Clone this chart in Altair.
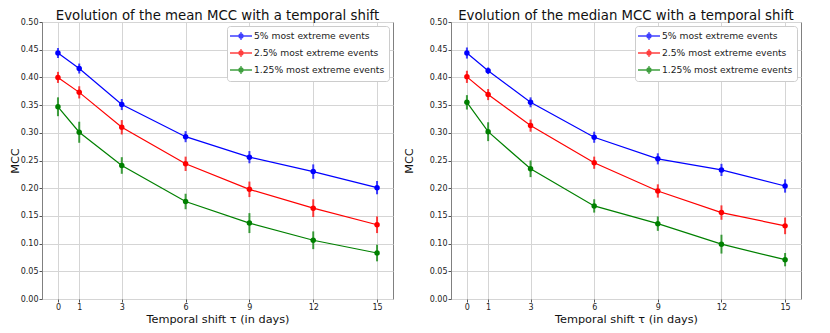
import altair as alt
import pandas as pd

shifts = [0, 1, 3, 6, 9, 12, 15]
series_names = ["5% most extreme events", "2.5% most extreme events", "1.25% most extreme events"]
colors = ["#0000ff", "#ff0000", "#008000"]

mean_5 = [0.444, 0.416, 0.351, 0.293, 0.256, 0.230, 0.201]
mean_25 = [0.400, 0.373, 0.310, 0.244, 0.198, 0.164, 0.134]
mean_125 = [0.347, 0.301, 0.241, 0.176, 0.137, 0.106, 0.083]
mean_err_5 = [0.009, 0.009, 0.010, 0.010, 0.011, 0.013, 0.012]
mean_err_25 = [0.010, 0.011, 0.013, 0.013, 0.014, 0.016, 0.015]
mean_err_125 = [0.017, 0.019, 0.015, 0.014, 0.018, 0.016, 0.015]

median_5 = [0.444, 0.412, 0.355, 0.292, 0.253, 0.233, 0.204]
median_25 = [0.401, 0.369, 0.313, 0.246, 0.195, 0.156, 0.132]
median_125 = [0.355, 0.302, 0.235, 0.168, 0.136, 0.099, 0.071]
median_err_5 = [0.010, 0.006, 0.009, 0.010, 0.010, 0.011, 0.012]
median_err_25 = [0.011, 0.010, 0.011, 0.011, 0.012, 0.013, 0.015]
median_err_125 = [0.013, 0.017, 0.015, 0.012, 0.013, 0.017, 0.012]

y_ticks = [0.0, 0.05, 0.10, 0.15, 0.20, 0.25, 0.30, 0.35, 0.40, 0.45, 0.50]


def make_df(vals, errs):
    rows = []
    for name, v, e in zip(series_names, vals, errs):
        for s, vi, ei in zip(shifts, v, e):
            rows.append({"shift": s, "value": vi, "lo": vi - ei, "hi": vi + ei, "series": name})
    return pd.DataFrame(rows)


legend_path = ("M-2.2,0H2.2M0,-0.8V0.8"
               "M0.4,0A0.4,0.4,0,1,1,-0.4,0A0.4,0.4,0,1,1,0.4,0Z")


def panel(df, title, w, ytitle_pad):
    color = alt.Color(
        "series:N",
        scale=alt.Scale(domain=series_names, range=colors),
        legend=alt.Legend(
            title=None, orient="top-right", offset=4,
            symbolType=legend_path, symbolSize=100, symbolStrokeWidth=1.3,
            labelFontSize=9.2, labelFont="DejaVu Sans", labelColor="#222",
            fillColor="white", strokeColor="#cccccc", cornerRadius=3,
            padding=4, rowPadding=3, symbolOffset=4, labelOffset=7,
        ),
    )
    x = alt.X("shift:Q",
              scale=alt.Scale(domain=[-0.75, 15.75], nice=False, zero=False),
              axis=alt.Axis(values=shifts, title="Temporal shift τ (in days)", format="d"))
    yaxis = alt.Axis(values=y_ticks, format=".2f", title="MCC", titlePadding=ytitle_pad)
    yscale = alt.Scale(domain=[0, 0.5], nice=False)
    y = alt.Y("value:Q", scale=yscale, axis=yaxis)
    base = alt.Chart(df)
    line = base.mark_line(strokeWidth=1.2).encode(x=x, y=y, color=color)
    err = base.mark_rule(strokeWidth=2, opacity=0.75).encode(
        x=x, y=alt.Y("lo:Q", scale=yscale, axis=yaxis), y2="hi:Q", color=color)
    pts = base.mark_point(filled=True, size=30, opacity=1).encode(x=x, y=y, color=color)
    return alt.layer(line, err, pts).properties(
        width=w, height=277,
        title=alt.TitleParams(title, fontSize=13.3, font="DejaVu Sans", fontWeight="normal",
                              color="#111", offset=-4),
    )


left = panel(make_df([mean_5, mean_25, mean_125], [mean_err_5, mean_err_25, mean_err_125]),
             "Evolution of the mean MCC with a temporal shift", 351, 0)
right = panel(make_df([median_5, median_25, median_125], [median_err_5, median_err_25, median_err_125]),
              "Evolution of the median MCC with a temporal shift", 350, 15)

chart = alt.hconcat(left, right, spacing=8).resolve_scale(color="independent").resolve_legend(color="independent").properties(
    padding={"left": 0, "top": 0, "right": 0, "bottom": 0}
).configure_view(
    stroke="#808080", strokeWidth=1
).configure_axis(
    labelFont="DejaVu Sans", titleFont="DejaVu Sans", labelFontSize=8, titleFontSize=11.3,
    labelColor="#222", titleColor="#111", titleFontWeight="normal",
    gridColor="#d5d5d5", gridWidth=1, domain=False,
    tickColor="#555", tickSize=3, labelPadding=1, titlePadding=2,
)

chart.save("out.html", embed_options={"renderer": "svg", "actions": False})
